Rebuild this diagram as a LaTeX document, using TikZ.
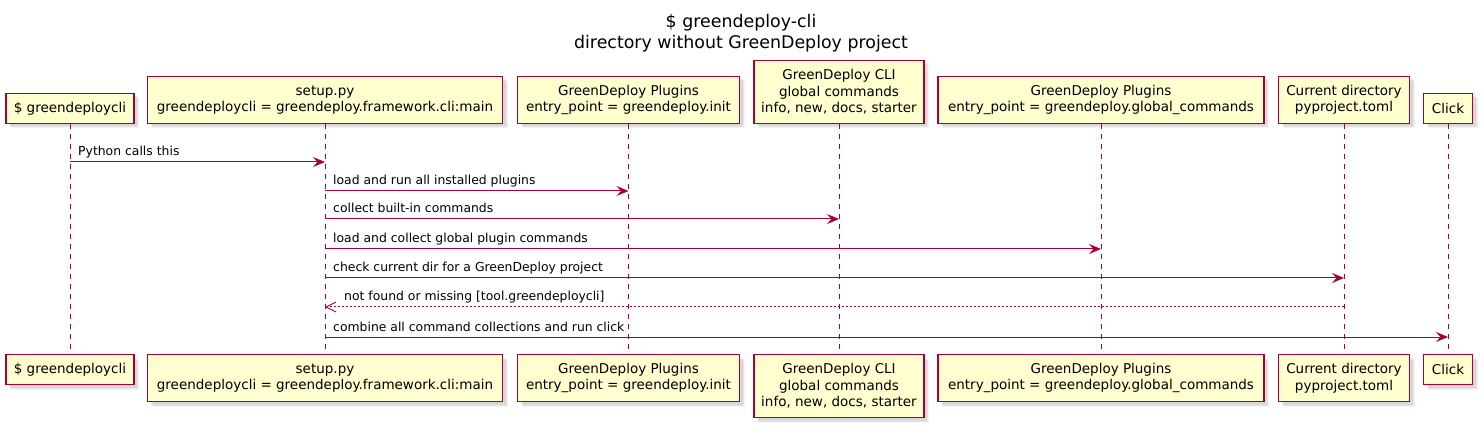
\documentclass[tikz,border=0pt]{standalone}
\usepackage{fontspec}
\setmainfont{DejaVu Sans}
\usetikzlibrary{arrows.meta,shadows,calc}
\definecolor{pborder}{HTML}{A80036}
\definecolor{pfill}{HTML}{FEFECE}
\begin{document}
\begin{tikzpicture}[x=1pt,y=-1pt,
 pbox/.style={draw=pborder, fill=pfill, line width=1.1pt, inner sep=0pt, align=center,
   font=\fontsize{13.5}{16.5}\selectfont,
   drop shadow={shadow xshift=5pt, shadow yshift=-5pt, fill=black!40, opacity=0.12},
   drop shadow={shadow xshift=4pt, shadow yshift=-4pt, fill=black!40, opacity=0.15},
   drop shadow={shadow xshift=3pt, shadow yshift=-3pt, fill=black!40, opacity=0.18}},
 lifeline/.style={draw=pborder, line width=1pt, dash pattern=on 5pt off 5pt},
 msg/.style={draw=pborder, line width=1pt, -{Stealth[length=12pt,width=10pt,inset=4.5pt]}},
 reply/.style={draw=pborder, line width=1pt, dash pattern=on 2pt off 2pt, -{Straight Barb[length=10pt,width=10pt]}},
 mlabel/.style={anchor=base west, inner sep=0pt, font=\fontsize{12.4}{15}\selectfont},
]
\useasboundingbox (0,0) rectangle (1483,430);

\node[align=center, font=\fontsize{17.4}{21}\selectfont] (title) at (741,33)
  {\$ greendeploy-cli\\directory without GreenDeploy project};

% top participants
\node[pbox, minimum width=128pt, minimum height=30pt, anchor=south] (a) at (70,124) {\$ greendeploycli};
\node[pbox, minimum width=355pt, minimum height=47pt, anchor=south] (b) at (325,124) {setup.py\\greendeploycli = greendeploy.framework.cli:main};
\node[pbox, minimum width=222pt, minimum height=47pt, anchor=south] (c) at (628.5,124) {GreenDeploy Plugins\\entry\_point = greendeploy.init};
\node[pbox, minimum width=170pt, minimum height=63pt, anchor=south] (d) at (839,124) {GreenDeploy CLI\\global commands\\info, new, docs, starter};
\node[pbox, minimum width=326pt, minimum height=47pt, anchor=south] (e) at (1101,124) {GreenDeploy Plugins\\entry\_point = greendeploy.global\_commands};
\node[pbox, minimum width=131pt, minimum height=47pt, anchor=south] (f) at (1344,124) {Current directory\\pyproject.toml};
\node[pbox, minimum width=49pt, minimum height=30pt, anchor=south] (g) at (1448,124) {Click};

% bottom participants
\node[pbox, minimum width=128pt, minimum height=30pt, anchor=north] (a2) at (70,354) {\$ greendeploycli};
\node[pbox, minimum width=355pt, minimum height=47pt, anchor=north] (b2) at (325,354) {setup.py\\greendeploycli = greendeploy.framework.cli:main};
\node[pbox, minimum width=222pt, minimum height=47pt, anchor=north] (c2) at (628.5,354) {GreenDeploy Plugins\\entry\_point = greendeploy.init};
\node[pbox, minimum width=170pt, minimum height=63pt, anchor=north] (d2) at (839,354) {GreenDeploy CLI\\global commands\\info, new, docs, starter};
\node[pbox, minimum width=326pt, minimum height=47pt, anchor=north] (e2) at (1101,354) {GreenDeploy Plugins\\entry\_point = greendeploy.global\_commands};
\node[pbox, minimum width=131pt, minimum height=47pt, anchor=north] (f2) at (1344,354) {Current directory\\pyproject.toml};
\node[pbox, minimum width=49pt, minimum height=30pt, anchor=north] (g2) at (1448,354) {Click};

% lifelines
\foreach \p in {a,b,c,d,e,f,g}{
  \draw[lifeline] (\p.south) -- (\p2.north);
}

% message rows
\coordinate (m1) at (0,162);
\coordinate (m2) at (0,191);
\coordinate (m3) at (0,219);
\coordinate (m4) at (0,249);
\coordinate (m5) at (0,278);
\coordinate (m6) at (0,307);
\coordinate (m7) at (0,337);

\draw[msg] (a.south |- m1) -- (b.south |- m1);
\node[mlabel] (l1) at ($(a.south |- m1)+(8,-6)$) {Python calls this};

\draw[msg] (b.south |- m2) -- (c.south |- m2);
\node[mlabel] (l2) at ($(b.south |- m2)+(8,-6)$) {load and run all installed plugins};

\draw[msg] (b.south |- m3) -- (d.south |- m3);
\node[mlabel] (l3) at ($(b.south |- m3)+(8,-6)$) {collect built-in commands};

\draw[msg] (b.south |- m4) -- (e.south |- m4);
\node[mlabel] (l4) at ($(b.south |- m4)+(8,-6)$) {load and collect global plugin commands};

\draw[msg] (b.south |- m5) -- (f.south |- m5);
\node[mlabel] (l5) at ($(b.south |- m5)+(8,-6)$) {check current dir for a GreenDeploy project};

\draw[reply] (f.south |- m6) -- (b.south |- m6);
\node[mlabel] (l6) at ($(b.south |- m6)+(19,-6)$) {not found or missing [tool.greendeploycli]};

\draw[msg] (b.south |- m7) -- (g.south |- m7);
\node[mlabel] (l7) at ($(b.south |- m7)+(8,-6)$) {combine all command collections and run click};
\end{tikzpicture}
\end{document}
